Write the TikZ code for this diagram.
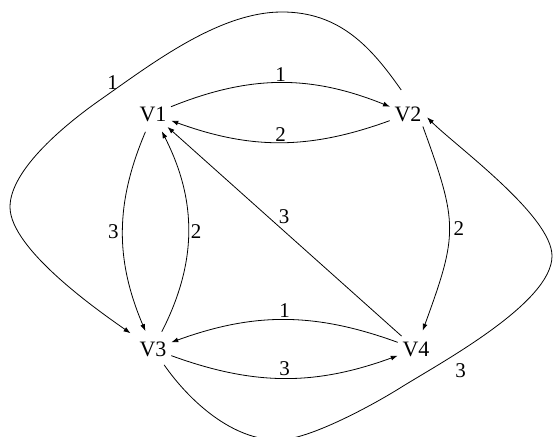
\documentclass[tikz,border=0pt]{standalone}
\usepackage{fontspec}
\setmainfont{Liberation Serif}
\usetikzlibrary{arrows.meta}
\begin{document}
\begin{tikzpicture}[x=1pt,y=1pt,>={Latex[length=7pt,width=5pt]},line width=0.8pt,
        vertex/.style={circle,minimum size=38pt,inner sep=0pt,font=\fontsize{22}{26}\selectfont},
        wt/.style={font=\fontsize{21}{25}\selectfont}]
    \useasboundingbox (0,0) rectangle (553,436);
    \node[vertex] (V1) at (153,322) {V1};
    \node[vertex] (V2) at (408,322) {V2};
    \node[vertex] (V3) at (153,87) {V3};
    \node[vertex] (V4) at (416,87) {V4};
    \draw[->] (V1) to[bend left=22] node[wt,above,inner sep=0.5pt] {1} (V2);
    \draw[->] (V2) to[bend left=20] node[wt,above,inner sep=0.5pt] {2} (V1);
    \draw[->] (V1) to[bend right=23] node[wt,left,inner sep=3.5pt] {3} (V3);
    \draw[->] (V3) to[bend right=27] node[wt,right,inner sep=2pt] {2} (V1);
    \draw[->] (V4) -- node[wt,pos=0.53,above right,inner sep=1pt] {3} (V1);
    \draw[->] (V2.-40) to[out=-70,in=70,looseness=1.3] node[wt,right,inner sep=4pt] {2} (V4);
    \draw[->] (V4) to[bend right=20] node[wt,above,inner sep=1.5pt] {1} (V3);
    \draw[->] (V3) to[bend right=20] node[wt,above,inner sep=2.5pt] {3} (V4);
    \draw[->,shorten <=6pt,shorten >=8pt] (V2.100) to[out=125,in=0] (282,424)
        to[out=180,in=35,looseness=0.8] node[wt,pos=0.92,above,inner sep=1pt] {1} (100,336)
        to[out=215,in=90,looseness=0.7] (10,229)
        to[out=270,in=145,looseness=0.6] (V3);
    \draw[->] (V3) to[out=-55,in=180,looseness=0.85] (278,-4)
        to[out=0,in=212,looseness=0.6] (400,48)
        to[out=32,in=270,looseness=0.6] node[wt,pos=0.35,below=10pt,inner sep=2pt] {3} (552,180)
        to[out=90,in=-45,looseness=0.55] (V2.-10);
\end{tikzpicture}
\end{document}
